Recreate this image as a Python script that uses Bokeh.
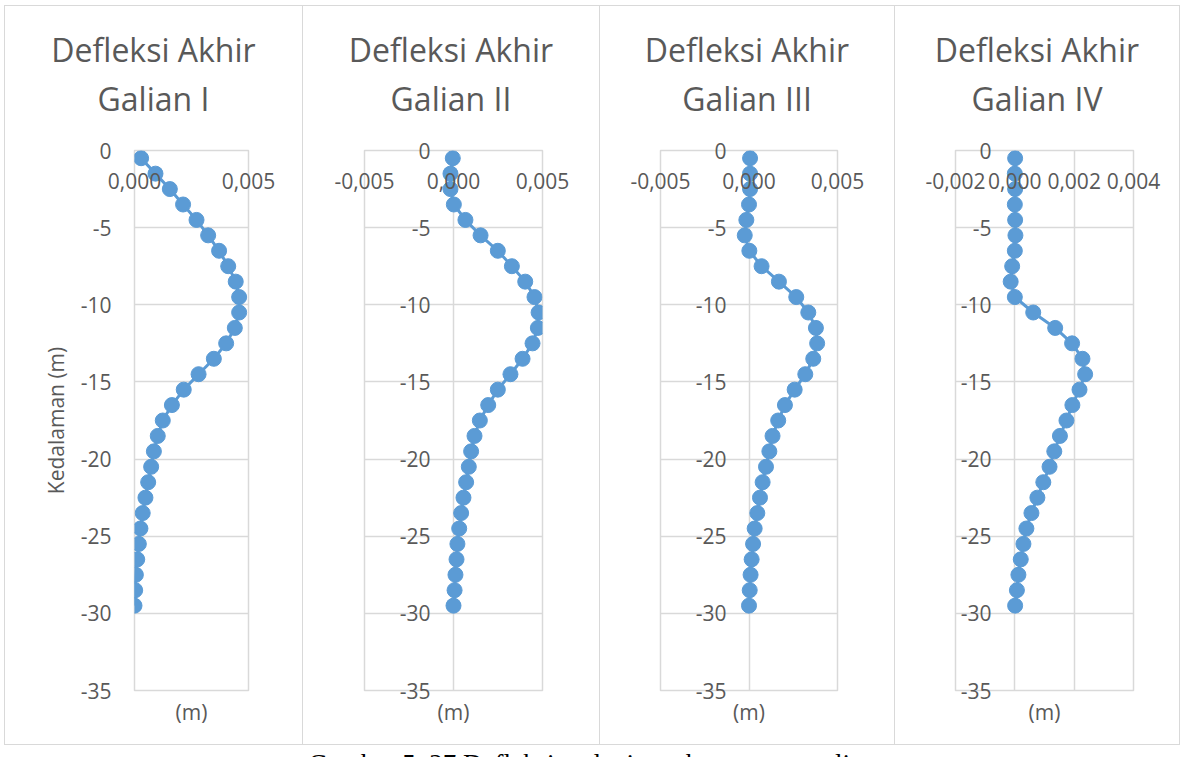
from bokeh.plotting import figure
from bokeh.models import Title, FixedTicker, Range1d, Div, Spacer
from bokeh.layouts import row, column
from bokeh.embed import file_html
from bokeh.resources import INLINE

# ---------------- data ----------------
depth = [-0.5, -1.5, -2.5, -3.5, -4.5, -5.5, -6.5, -7.5, -8.5, -9.5,
         -10.5, -11.5, -12.5, -13.5, -14.5, -15.5, -16.5, -17.5, -18.5, -19.5,
         -20.5, -21.5, -22.5, -23.5, -24.5, -25.5, -26.5, -27.5, -28.5, -29.5]

defl_1 = [0.00029, 0.00092, 0.00155, 0.00213, 0.00272, 0.00323, 0.00371, 0.00411, 0.00444, 0.00459,
          0.00459, 0.00440, 0.00402, 0.00348, 0.00281, 0.00216, 0.00164, 0.00124, 0.00102, 0.00085,
          0.00073, 0.00060, 0.00048, 0.00036, 0.00026, 0.00019, 0.00012, 0.00006, 0.00003, 0.00000]

defl_2 = [-0.00004, -0.00017, -0.00017, 0.00002, 0.00067, 0.00152, 0.00249, 0.00328, 0.00403, 0.00455,
          0.00478, 0.00474, 0.00444, 0.00388, 0.00320, 0.00249, 0.00195, 0.00148, 0.00118, 0.00099,
          0.00086, 0.00071, 0.00056, 0.00043, 0.00032, 0.00022, 0.00017, 0.00011, 0.00006, 0.00000]

defl_3 = [0.00006, 0.00006, 0.00006, 0.00000, -0.00015, -0.00024, 0.00002, 0.00071, 0.00169, 0.00267,
          0.00335, 0.00378, 0.00385, 0.00363, 0.00318, 0.00258, 0.00203, 0.00165, 0.00133, 0.00115,
          0.00096, 0.00077, 0.00062, 0.00047, 0.00032, 0.00023, 0.00015, 0.00009, 0.00004, 0.00000]

defl_4 = [0.00001, 0.00000, 0.00001, 0.00000, 0.00001, 0.00002, 0.00000, -0.00009, -0.00014, 0.00000,
          0.00062, 0.00136, 0.00193, 0.00228, 0.00237, 0.00218, 0.00194, 0.00174, 0.00152, 0.00133,
          0.00117, 0.00096, 0.00076, 0.00056, 0.00039, 0.00029, 0.00020, 0.00012, 0.00007, 0.00001]

title_line1 = "Defleksi Akhir"
panel_titles = ["Galian I", "Galian II", "Galian III", "Galian IV"]

x_ticks_1 = [0.0, 0.005]
x_labels_1 = ["0,000", "0,005"]
x_ticks_2 = [-0.005, 0.0, 0.005]
x_labels_2 = ["-0,005", "0,000", "0,005"]
x_ticks_3 = [-0.005, 0.0, 0.005]
x_labels_3 = ["-0,005", "0,000", "0,005"]
x_ticks_4 = [-0.002, 0.0, 0.002, 0.004]
x_labels_4 = ["-0,002", "0,000", "0,002", "0,004"]

y_ticks = [0, -5, -10, -15, -20, -25, -30, -35]
y_labels = ["0", "-5", "-10", "-15", "-20", "-25", "-30", "-35"]

x_axis_title = "(m)"
y_axis_title = "Kedalaman (m)"
caption = "Gambar 5. 27 Defleksi pada tiap tahapan penggalian"

# ---------------- styling ----------------
BLUE = "#5b9bd5"
TXT = "#595959"
GRID = "#d9d9d9"
FONT = "Open Sans"
TITLE_H = 118

def make_panel(xs, xt, xl, sub, fig_w, frame_w, left_b, ylab_standoff, with_ylabel):
    p = figure(frame_width=frame_w, frame_height=540,
               min_border_left=left_b, min_border_right=fig_w - left_b - frame_w,
               min_border_top=144 - TITLE_H, min_border_bottom=54,
               x_range=Range1d(xt[0], xt[-1]), y_range=Range1d(-35, 0),
               x_axis_location="above",
               output_backend="svg", toolbar_location=None,
               outline_line_color=GRID, outline_line_width=1.5,
               background_fill_color="white", border_fill_color="white")
    p.line(xs, depth, line_color=BLUE, line_width=3)
    p.scatter(xs, depth, size=15, fill_color=BLUE, line_color=BLUE)

    xa = p.xaxis[0]
    xa.ticker = FixedTicker(ticks=xt)
    xa.major_label_overrides = dict(zip(xt, xl))
    xa.axis_line_color = None
    xa.major_tick_line_color = None
    xa.minor_tick_line_color = None
    xa.major_tick_in = 0
    xa.major_tick_out = 0
    xa.major_label_standoff = -38
    xa.major_label_text_font = FONT
    xa.major_label_text_font_size = "21px"
    xa.major_label_text_color = TXT

    ya = p.yaxis[0]
    ya.ticker = FixedTicker(ticks=y_ticks)
    ya.major_label_overrides = dict(zip(y_ticks, y_labels))
    ya.axis_line_color = None
    ya.major_tick_line_color = None
    ya.minor_tick_line_color = None
    ya.major_tick_in = 0
    ya.major_tick_out = 0
    ya.major_label_standoff = ylab_standoff
    ya.major_label_text_font = FONT
    ya.major_label_text_font_size = "21px"
    ya.major_label_text_color = TXT
    if with_ylabel:
        ya.axis_label = y_axis_title
        ya.axis_label_standoff = 8
        ya.axis_label_text_font = FONT
        ya.axis_label_text_font_size = "21px"
        ya.axis_label_text_font_style = "normal"
        ya.axis_label_text_color = TXT

    p.xgrid.ticker = FixedTicker(ticks=xt)
    p.ygrid.ticker = FixedTicker(ticks=y_ticks)
    p.grid.grid_line_color = GRID
    p.grid.grid_line_width = 1.5

    p.add_layout(Title(text=x_axis_title, text_font_size="21px", standoff=11, align="center",
                       text_font=FONT, text_color=TXT, text_font_style="normal"), "below")

    head = Div(text=f"{title_line1}<br>{sub}", width=fig_w, height=TITLE_H, margin=(0, 0, 0, 0),
               styles={"font-family": FONT, "font-size": "32px", "color": TXT,
                       "line-height": "49px", "text-align": "center",
                       "background-color": "white", "padding-top": "19px",
                       "box-sizing": "border-box", "overflow": "hidden",
                       "white-space": "nowrap"})
    return column(head, p, spacing=0, styles={"background-color": "white"})

c1 = make_panel(defl_1, x_ticks_1, x_labels_1, panel_titles[0], 297, 114, 129, 23, True)
c2 = make_panel(defl_2, x_ticks_2, x_labels_2, panel_titles[1], 296, 178, 61, -66, False)
c3 = make_panel(defl_3, x_ticks_3, x_labels_3, panel_titles[2], 294, 177, 60, -66, False)
c4 = make_panel(defl_4, x_ticks_4, x_labels_4, panel_titles[3], 284, 178, 60, -36, False)

charts = row(c1, c2, c3, c4, spacing=1,
             styles={"background-color": GRID, "padding": "1px"})
cap = Div(text=caption, width=1176, margin=(0, 0, 0, 0),
          styles={"font-family": "Liberation Serif", "font-size": "27px",
                  "color": "black", "text-align": "center"})
layout = column(Spacer(height=5), row(Spacer(width=4), column(charts, cap, spacing=0), spacing=0), spacing=0)

open("out.html", "w").write(file_html(layout, INLINE))
